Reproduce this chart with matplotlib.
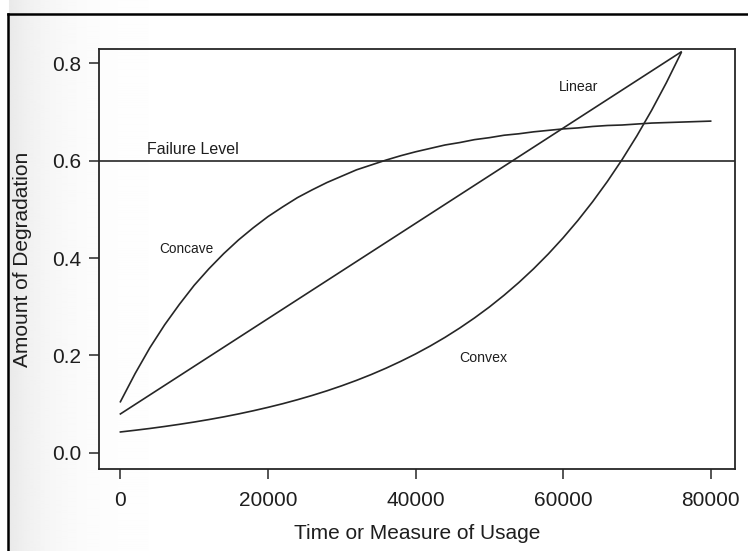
import numpy as np
import matplotlib
matplotlib.use('Agg')
import matplotlib.pyplot as plt
from matplotlib.lines import Line2D

plt.rcParams['font.family'] = ['Liberation Sans', 'DejaVu Sans']

# usage grid (every 2000 units)
usage = list(range(0, 80001, 2000))

# concave degradation path, 0 .. 80000
concave = [0.105, 0.163, 0.216, 0.263, 0.305, 0.344, 0.378, 0.409, 0.437, 0.462,
           0.485, 0.505, 0.524, 0.540, 0.555, 0.568, 0.581, 0.591, 0.601, 0.610,
           0.618, 0.625, 0.632, 0.637, 0.643, 0.647, 0.652, 0.655, 0.659, 0.662,
           0.665, 0.667, 0.670, 0.672, 0.673, 0.675, 0.677, 0.678, 0.679, 0.680,
           0.681]

# convex degradation path, 0 .. 76000
convex = [0.043, 0.0465, 0.0502, 0.0543, 0.0587, 0.0634, 0.0685, 0.0740, 0.0800,
          0.0865, 0.0935, 0.1010, 0.1092, 0.1180, 0.1275, 0.1378, 0.1489, 0.1609,
          0.1739, 0.1880, 0.2031, 0.2195, 0.2372, 0.2564, 0.2771, 0.2994, 0.3236,
          0.3497, 0.3779, 0.4084, 0.4414, 0.4770, 0.5155, 0.5571, 0.6021, 0.6507,
          0.7032, 0.7599, 0.8212]

# linear path end points
linear_x = [0, 76000]
linear_y = [0.080, 0.823]

failure_level = 0.6

xticks = [0, 20000, 40000, 60000, 80000]
yticks = [0.0, 0.2, 0.4, 0.6, 0.8]

ink = '#262626'
txt = '#1e1e1e'

fig = plt.figure(figsize=(7.48, 5.51), dpi=100)

# soft page shading along the left edge
bg = fig.add_axes([0, 0, 1, 1], zorder=-5)
xs = np.arange(748)
row = 1.0 - 0.085 * np.exp(-np.clip(xs - 10, 0, None) / 45.0)
row[:9] = 1.0
shade = np.tile(row, (10, 1))
bg.imshow(shade, cmap='gray', vmin=0, vmax=1, aspect='auto',
          extent=[0, 1, 0, 1], interpolation='bilinear')
bg.axis('off')

# scan border lines
fig.add_artist(Line2D([8 / 748, 1], [1 - 14 / 551] * 2, color='black', lw=1.8,
                      transform=fig.transFigure))
fig.add_artist(Line2D([8 / 748] * 2, [0, 1 - 14 / 551], color='black', lw=1.8,
                      transform=fig.transFigure))

ax = fig.add_axes([99 / 748, 1 - 469 / 551, 636 / 748, 420 / 551])
ax.patch.set_alpha(0)

ax.plot(usage, concave, color=ink, lw=1.2)
ax.plot(usage[:len(convex)], convex, color=ink, lw=1.2)
ax.plot(linear_x, linear_y, color=ink, lw=1.2)
ax.axhline(failure_level, color=ink, lw=1.2)

ax.text(3600, 0.622, 'Failure Level', fontsize=11.5, color=txt, va='center')
ax.text(5200, 0.418, 'Concave', fontsize=9.8, color=txt, va='center')
ax.text(59400, 0.751, 'Linear', fontsize=10.2, color=txt, va='center')
ax.text(45900, 0.195, 'Convex', fontsize=10.2, color=txt, va='center')

ax.set_xlim(-2900, 83300)
ax.set_ylim(-0.033, 0.829)
ax.set_xticks(xticks)
ax.set_xticklabels([str(t) for t in xticks])
ax.set_yticks(yticks)
ax.set_yticklabels(['%.1f' % t for t in yticks])
ax.tick_params(direction='out', length=7, width=1.1, colors=ink,
               labelsize=15, labelcolor=txt)
ax.tick_params(axis='x', pad=9)
ax.tick_params(axis='y', pad=6)
for s in ax.spines.values():
    s.set_color(ink)
    s.set_linewidth(1.3)

ax.set_xlabel('Time or Measure of Usage', fontsize=15, color=txt, labelpad=10)
ax.set_ylabel('Amount of Degradation', fontsize=15, color=txt, labelpad=14)

fig.savefig('out.png', dpi=100)
